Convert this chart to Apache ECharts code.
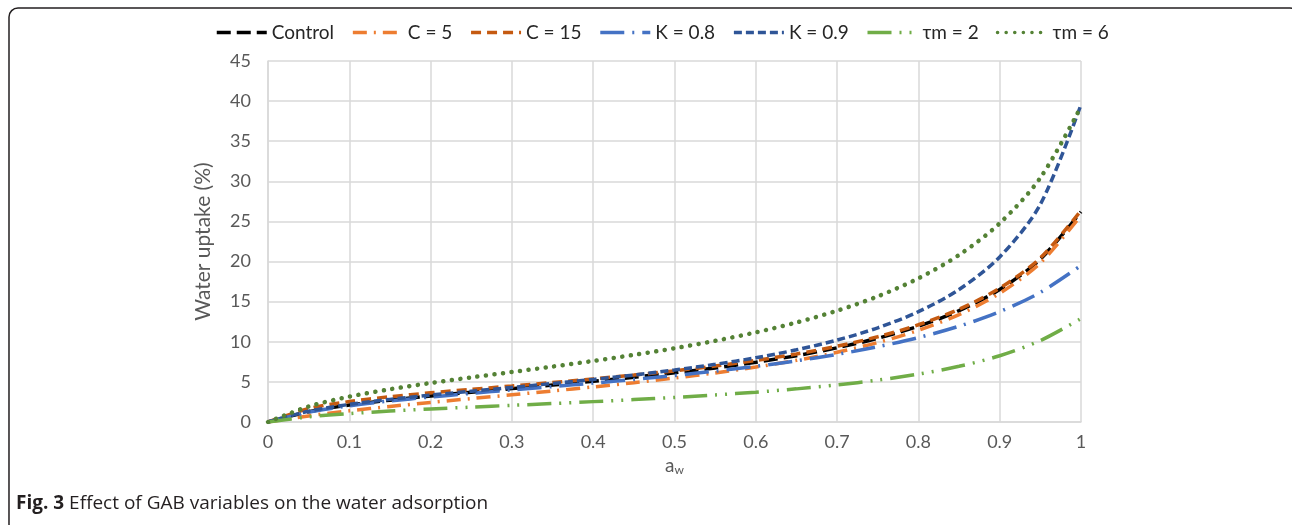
<!DOCTYPE html>
<html>
<head>
<meta charset="utf-8">
<style>
  html, body { margin: 0; padding: 0; background: #fff; }
  #main { width: 1292px; height: 525px; }
</style>
<script src="https://cdn.jsdelivr.net/npm/echarts@6/dist/echarts.min.js"></script>
</head>
<body>
<div id="main"></div>
<script>
// water activity values (x axis)
var aw = [0, 0.05, 0.1, 0.15, 0.2, 0.25, 0.3, 0.35, 0.4, 0.45, 0.5,
          0.55, 0.6, 0.65, 0.7, 0.75, 0.8, 0.85, 0.9, 0.95, 1];

// water uptake (%)
var control = [0, 1.28, 2.11, 2.72, 3.24, 3.71, 4.16, 4.61, 5.08, 5.58, 6.13,
               6.74, 7.45, 8.27, 9.25, 10.44, 11.94, 13.88, 16.51, 20.30, 26.20];
var c5 = [0, 0.76, 1.39, 1.94, 2.44, 2.92, 3.39, 3.87, 4.37, 4.90, 5.48,
          6.12, 6.85, 7.69, 8.69, 9.91, 11.43, 13.39, 16.04, 19.83, 25.76];
var c15 = [0, 1.67, 2.55, 3.15, 3.64, 4.07, 4.49, 4.92, 5.37, 5.85, 6.38,
           6.98, 7.67, 8.48, 9.45, 10.63, 12.12, 14.06, 16.68, 20.45, 26.36];
var k08 = [0, 1.23, 2.02, 2.62, 3.12, 3.57, 4.00, 4.42, 4.85, 5.31, 5.80,
           6.34, 6.94, 7.63, 8.43, 9.38, 10.52, 11.94, 13.75, 16.16, 19.51];
var k09 = [0, 1.34, 2.19, 2.82, 3.35, 3.84, 4.31, 4.80, 5.31, 5.86, 6.48,
           7.19, 8.01, 9.00, 10.21, 11.74, 13.75, 16.51, 20.57, 27.13, 39.56];
var tm2 = [0, 0.64, 1.05, 1.36, 1.62, 1.85, 2.08, 2.30, 2.54, 2.79, 3.06,
           3.37, 3.72, 4.13, 4.62, 5.22, 5.97, 6.94, 8.26, 10.15, 12.90];
var tm6 = [0, 1.93, 3.16, 4.08, 4.86, 5.56, 6.23, 6.91, 7.61, 8.37, 9.19,
           10.12, 11.17, 12.40, 13.87, 15.66, 17.91, 20.82, 24.77, 30.44, 39.31];

var names = ["Control", "C = 5", "C = 15", "K = 0.8", "K = 0.9", "τm = 2", "τm = 6"];
var values = [control, c5, c15, k08, k09, tm2, tm6];
var colors = ["#000000", "#ED7D31", "#C55A11", "#4472C4", "#2F5597", "#70AD47", "#548235"];
var dashes = [
  [14, 6],
  [14, 7, 2, 7],
  [10, 6],
  [24, 8, 2, 8],
  [8, 4],
  [24, 8, 2, 8, 2, 8],
  [0.1, 8.5]
];

function pairs(ys) {
  var out = [];
  for (var i = 0; i < aw.length; i++) out.push([aw[i], ys[i]]);
  return out;
}

var font = "Lato, 'Open Sans', sans-serif";
var chart = echarts.init(document.getElementById("main"));

var series = [];
for (var i = 0; i < names.length; i++) {
  series.push({
    name: names[i],
    type: "line",
    data: pairs(values[i]),
    smooth: 0.3,
    symbol: "none",
    color: colors[i],
    lineStyle: {
      color: colors[i],
      width: i == 6 ? 4.5 : 3.5,
      type: dashes[i],
      cap: i == 6 ? "round" : "butt"
    }
  });
}

var option = {
  animation: false,
  backgroundColor: "#fff",
  legend: {
    top: 18,
    left: 210,
    itemWidth: 50,
    itemHeight: 12,
    itemGap: 17,
    itemStyle: { opacity: 0 },
    lineStyle: { width: 3.5 },
    textStyle: { fontFamily: font, fontSize: 19, color: "#262626" },
    data: names
  },
  grid: { left: 268, right: 211, top: 61, bottom: 103 },
  xAxis: {
    type: "value",
    min: 0,
    max: 1,
    interval: 0.1,
    name: "a{sub|w}",
    nameLocation: "middle",
    nameGap: 32,
    nameTextStyle: {
      fontFamily: font, fontSize: 19, color: "#595959",
      rich: { sub: { fontFamily: font, fontSize: 12, color: "#595959", verticalAlign: "bottom", padding: [9, 0, 0, 0] } }
    },
    axisLine: { lineStyle: { color: "#d9d9d9", width: 1.5 } },
    axisTick: { show: false },
    axisLabel: { fontFamily: font, fontSize: 18, color: "#595959", margin: 11 },
    splitLine: { show: true, lineStyle: { color: "#d9d9d9", width: 1.5 } }
  },
  yAxis: {
    type: "value",
    min: 0,
    max: 45,
    interval: 5,
    name: "Water uptake (%)",
    nameLocation: "middle",
    nameGap: 54,
    nameTextStyle: { fontFamily: font, fontSize: 21, color: "#595959" },
    axisLine: { show: true, lineStyle: { color: "#d9d9d9", width: 1.5 } },
    axisTick: { show: false },
    axisLabel: { fontFamily: font, fontSize: 18, color: "#595959", margin: 17 },
    splitLine: { lineStyle: { color: "#d9d9d9", width: 1.5 } }
  },
  graphic: [
    {
      type: "rect",
      shape: { x: 9, y: 8, width: 1290, height: 525, r: 9 },
      style: { fill: null, stroke: "#231f20", lineWidth: 1.5 },
      silent: true
    },
    {
      type: "text",
      left: 16,
      top: 494,
      style: {
        text: "{b|Fig. 3} Effect of GAB variables on the water adsorption",
        fontFamily: "'Open Sans', sans-serif",
        fontSize: 19,
        fill: "#231f20",
        rich: {
          b: { fontFamily: "'Open Sans', sans-serif", fontSize: 19, fontWeight: "bold", fill: "#231f20" }
        }
      }
    }
  ],
  series: series
};

chart.setOption(option);
</script>
</body>
</html>
